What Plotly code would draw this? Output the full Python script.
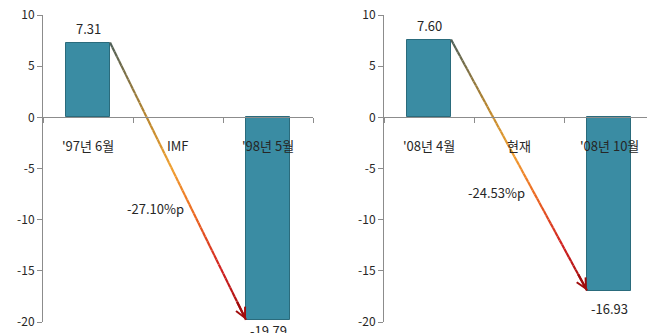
import plotly.graph_objects as go

# Two panels: rate before / after each crisis
cats_97 = ["'97년 6월", "IMF", "'98년 5월"]
vals_97 = [7.31, None, -19.79]
cats_08 = ["'08년 4월", "현재", "'08년 10월"]
vals_08 = [7.60, None, -16.93]
y_ticks = [10, 5, 0, -5, -10, -15, -20]

FONT = "Noto Sans CJK KR, Malgun Gothic, sans-serif"
TXT = "#262626"
AXIS = "#8c8c8c"
BAR_FILL = "#3a8ca3"
BAR_LINE = "#2a6b7c"
BAR_W = 0.49

# colour stops along the drop arrow (position 0..1, rgb)
GRAD = [(0.0, (78, 95, 88)), (0.27, (185, 134, 46)), (0.45, (240, 160, 48)),
        (0.62, (236, 104, 32)), (0.82, (208, 32, 32)), (1.0, (160, 12, 12))]


def grad_color(t):
    for (t0, c0), (t1, c1) in zip(GRAD[:-1], GRAD[1:]):
        if t <= t1:
            f = (t - t0) / (t1 - t0)
            c = [round(a + (b - a) * f) for a, b in zip(c0, c1)]
            return f"rgb({c[0]},{c[1]},{c[2]})"
    c = GRAD[-1][1]
    return f"rgb({c[0]},{c[1]},{c[2]})"


fig = go.Figure()
annotations = []


def add_panel(cats, vals, xa, ya, end_shift):
    xs = list(range(len(cats)))
    xref, yref = xa.replace("axis", ""), ya.replace("axis", "")
    fig.add_trace(go.Bar(
        x=xs, y=vals, width=BAR_W, xaxis=xref, yaxis=yref,
        marker=dict(color=BAR_FILL, line=dict(color=BAR_LINE, width=1)),
        hoverinfo="skip", showlegend=False))

    # value labels
    first, last = vals[0], vals[-1]
    annotations.append(dict(x=0, y=first, xref=xref, yref=yref, text=f"{first:.2f}",
                            showarrow=False, yshift=14,
                            font=dict(family=FONT, size=13, color=TXT)))
    annotations.append(dict(x=2, y=last, xref=xref, yref=yref, text=f"{last:.2f}",
                            showarrow=False, yshift=end_shift,
                            font=dict(family=FONT, size=13, color=TXT)))

    # category labels under the zero line
    for i, c in enumerate(cats):
        annotations.append(dict(x=i, y=0, xref=xref, yref=yref, text=c,
                                showarrow=False, yshift=-28,
                                font=dict(family=FONT, size=13, color=TXT)))

    # gradient arrow from the first bar's top-right to the last bar's end
    x0, y0 = 0 + BAR_W / 2, first
    x1, y1 = 2 - BAR_W / 2, last
    n = 60
    for k in range(n):
        ta, tb = k / n, (k + 1) / n
        fig.add_trace(go.Scatter(
            x=[x0 + (x1 - x0) * ta, x0 + (x1 - x0) * tb],
            y=[y0 + (y1 - y0) * ta, y0 + (y1 - y0) * tb],
            mode="lines", line=dict(color=grad_color((ta + tb) / 2), width=2.2),
            xaxis=xref, yaxis=yref, hoverinfo="skip", showlegend=False))
    annotations.append(dict(
        x=x1, y=y1, ax=x0 + (x1 - x0) * 0.93, ay=y0 + (y1 - y0) * 0.93,
        xref=xref, yref=yref, axref=xref, ayref=yref, text="",
        showarrow=True, arrowhead=5, arrowsize=0.9, arrowwidth=2.2,
        arrowcolor="rgb(160,12,12)", standoff=0))

    # size of the drop, beside the arrow's midpoint
    diff = last - first
    annotations.append(dict(x=(x0 + x1) / 2, y=(first + last) / 2,
                            xref=xref, yref=yref, text=f"{diff:.2f}%p",
                            showarrow=False, xshift=-23, yshift=-27,
                            font=dict(family=FONT, size=13, color=TXT)))


add_panel(cats_97, vals_97, "xaxis", "yaxis", -11)
add_panel(cats_08, vals_08, "xaxis2", "yaxis2", -18)

zero_pos = (0 - (-20)) / (10 - (-20))

x_common = dict(showgrid=False, zeroline=False, showline=True, linecolor=AXIS,
                linewidth=1, ticks="outside", ticklen=5, tickcolor=AXIS,
                tickvals=[-0.5, 0.5, 1.5, 2.5], showticklabels=False,
                anchor="free", position=zero_pos, fixedrange=True)
y_common = dict(range=[-20, 10], tickvals=y_ticks, ticktext=[str(v) for v in y_ticks],
                showgrid=False, zeroline=False,
                showline=True, linecolor=AXIS, linewidth=1, ticks="outside",
                ticklen=5, tickcolor=AXIS, domain=[0, 1],
                tickfont=dict(family=FONT, size=12, color=TXT), fixedrange=True)

fig.update_layout(
    width=647, height=333,
    margin=dict(l=43, r=0, t=15, b=11),
    paper_bgcolor="white", plot_bgcolor="white",
    xaxis=dict(x_common, domain=[0, 270 / 604], range=[-0.5, 2.5]),
    xaxis2=dict(x_common, domain=[341 / 604, 1], range=[-0.5, 2.422]),
    yaxis=dict(y_common, anchor="x"),
    yaxis2=dict(y_common, anchor="x2"),
    annotations=annotations,
    bargap=0,
)

fig.write_html("out.html")
